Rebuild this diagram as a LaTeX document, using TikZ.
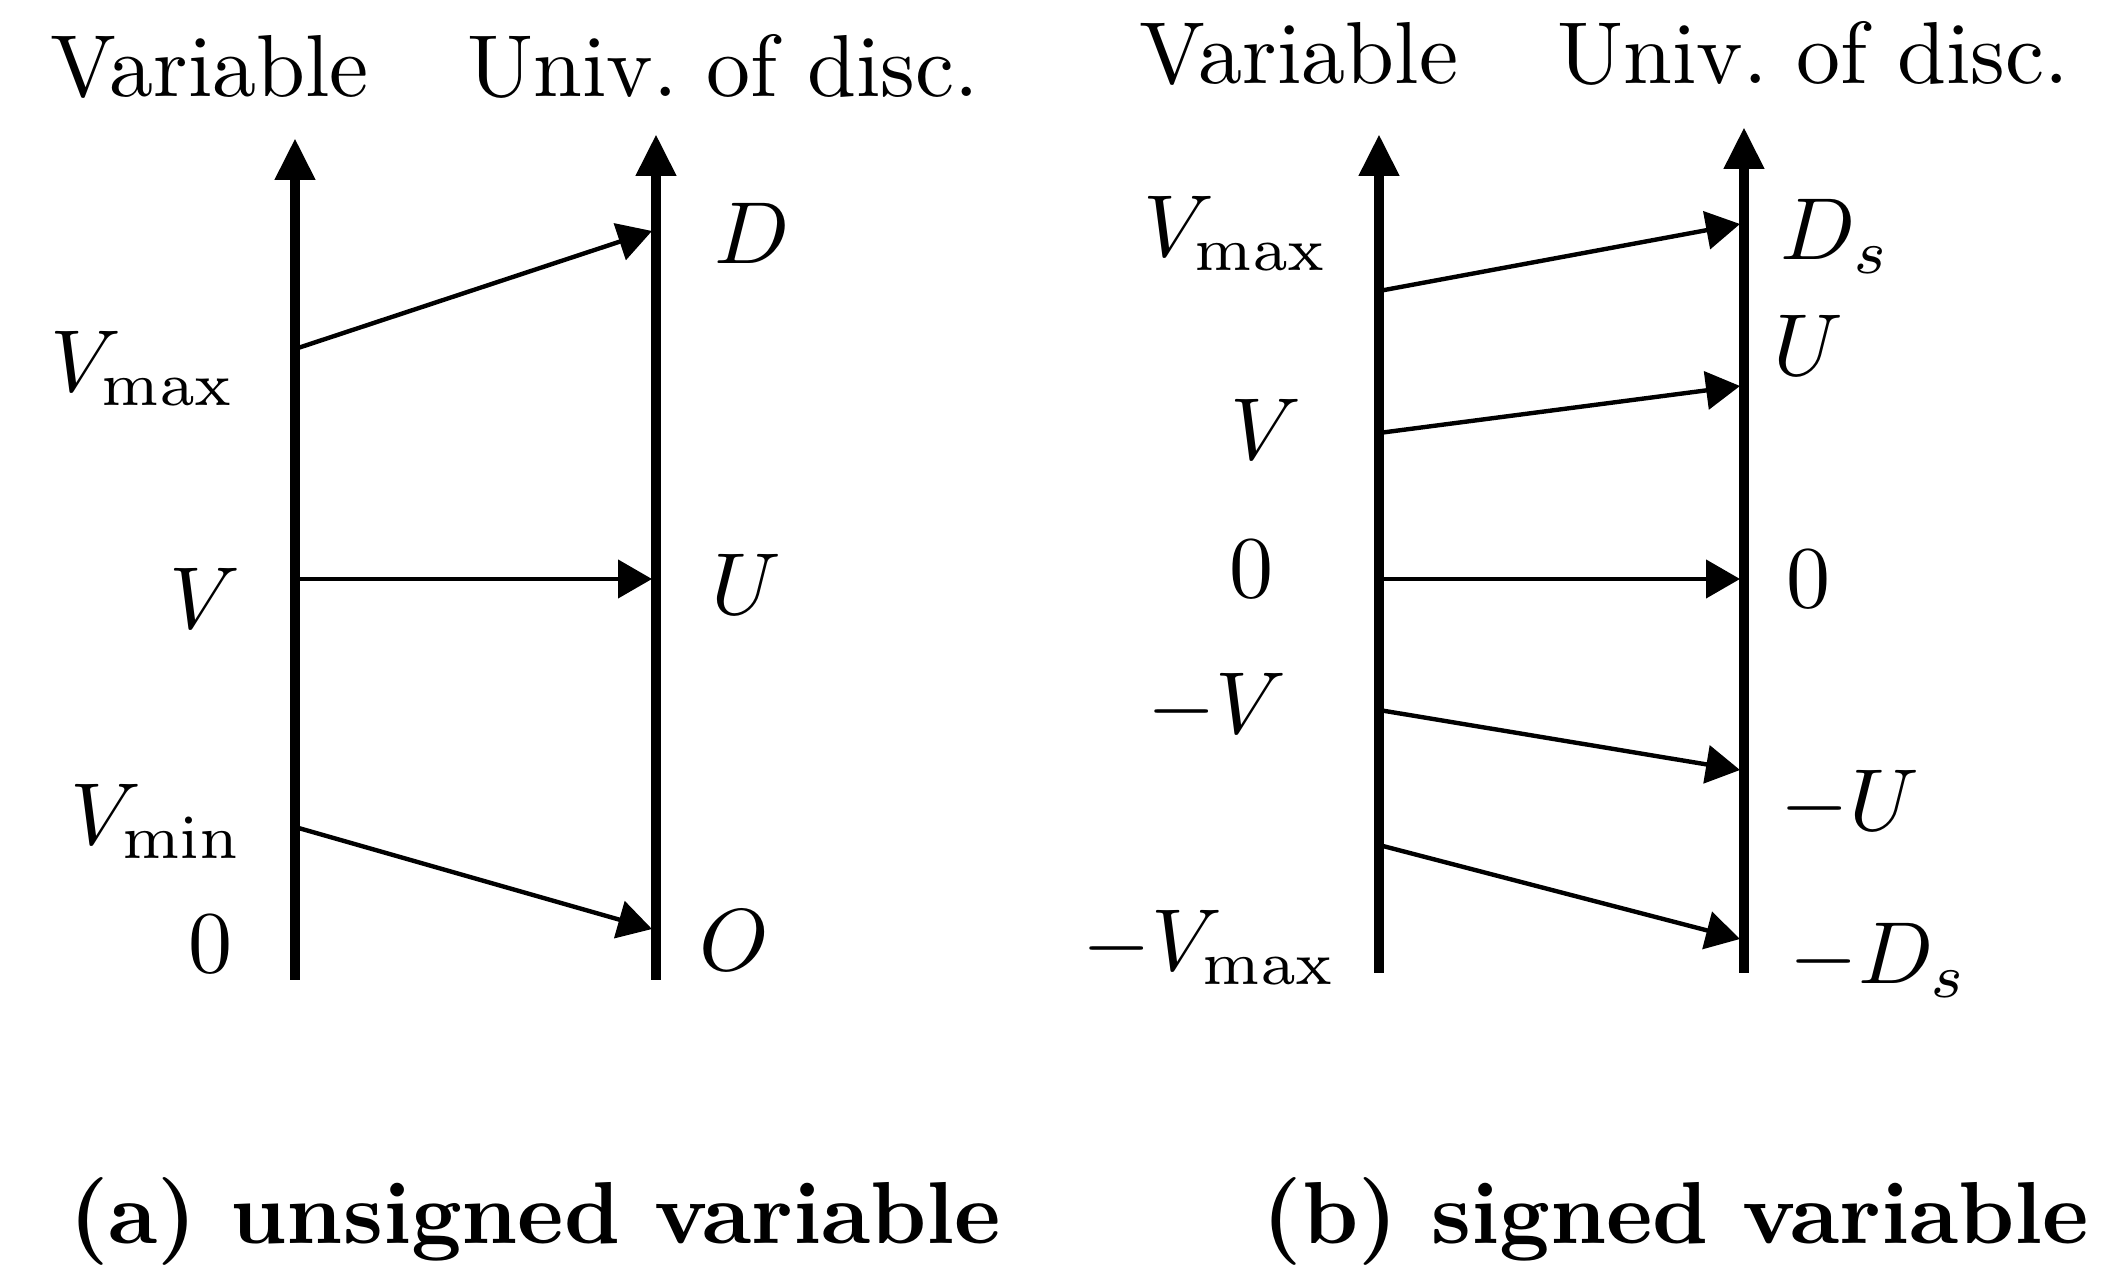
\documentclass[tikz,border=0pt]{standalone}
\usetikzlibrary{arrows.meta}
\tikzset{
  lbl/.style={anchor=base, inner sep=0pt, scale=2.2, transform shape},
  captext/.style={anchor=base, inner sep=0pt, scale=2.2, transform shape, font=\bfseries},
  axisline/.style={line width=2.6pt, -{Triangle[length=10.5pt,width=9.5pt]}},
  mapline/.style={line width=1.1pt, -{Triangle[length=8.5pt,width=9.5pt]}},
}
\begin{document}
\begin{tikzpicture}[x=0.25pt,y=-0.25pt]
\useasboundingbox (0,0) rectangle (2120,1281);

% ---------- panel (a) ----------
\node[lbl] (ta1) at (210,97) {Variable};
\node[lbl] (ta2) at (723,97) {Univ.\ of disc.};
\coordinate (aLb) at (295,980);
\coordinate (aLt) at (295,138);
\coordinate (aRb) at (656,980);
\coordinate (aRt) at (656,134);
\draw[axisline] (aLb) -- (aLt);
\draw[axisline] (aRb) -- (aRt);

\coordinate (a1s) at (295,349); \coordinate (a1e) at (652,231);
\coordinate (a2s) at (295,579); \coordinate (a2e) at (652,579);
\coordinate (a3s) at (295,827); \coordinate (a3e) at (652,929);
\draw[mapline] (a1s) -- (a1e);
\draw[mapline] (a2s) -- (a2e);
\draw[mapline] (a3s) -- (a3e);

\node[lbl] (aVmax) at (143,392) {$V_{\max}$};
\node[lbl] (aV)    at (205,629) {$V$};
\node[lbl] (aVmin) at (157,845) {$V_{\min}$};
\node[lbl] (a0)    at (210,973) {$0$};
\node[lbl] (aD)    at (752,264) {$D$};
\node[lbl] (aU)    at (746,615) {$U$};
\node[lbl] (aO)    at (734,971) {$O$};

\node[captext] (capa) at (535,1244) {(a) unsigned variable};

% ---------- panel (b) ----------
\node[lbl] (tb1) at (1299,84) {Variable};
\node[lbl] (tb2) at (1813,84) {Univ.\ of disc.};
\coordinate (bLb) at (1379,973);
\coordinate (bLt) at (1379,134);
\coordinate (bRb) at (1744,973);
\coordinate (bRt) at (1744,127);
\draw[axisline] (bLb) -- (bLt);
\draw[axisline] (bRb) -- (bRt);

\coordinate (b1s) at (1379,291); \coordinate (b1e) at (1740,224);
\coordinate (b2s) at (1379,433); \coordinate (b2e) at (1740,386);
\coordinate (b3s) at (1379,579); \coordinate (b3e) at (1740,579);
\coordinate (b4s) at (1379,710); \coordinate (b4e) at (1740,770);
\coordinate (b5s) at (1379,845); \coordinate (b5e) at (1740,939);
\draw[mapline] (b1s) -- (b1e);
\draw[mapline] (b2s) -- (b2e);
\draw[mapline] (b3s) -- (b3e);
\draw[mapline] (b4s) -- (b4e);
\draw[mapline] (b5s) -- (b5e);

\node[lbl] (bVmax)  at (1236,257) {$V_{\max}$};
\node[lbl] (bV)     at (1266,460) {$V$};
\node[lbl] (b0l)    at (1251,598) {$0$};
\node[lbl] (bmV)    at (1217,734) {$-V$};
\node[lbl] (bmVmax) at (1210,971) {$-V_{\max}$};
\node[lbl] (bDs)    at (1836,260) {$D_s$};
\node[lbl] (bU)     at (1808,376) {$U$};
\node[lbl] (b0r)    at (1808,608) {$0$};
\node[lbl] (bmU)    at (1850,831) {$-U$};
\node[lbl] (bmDs)   at (1879,984) {$-D_s$};

\node[captext] (capb) at (1676,1244) {(b) signed variable};
\end{tikzpicture}
\end{document}
